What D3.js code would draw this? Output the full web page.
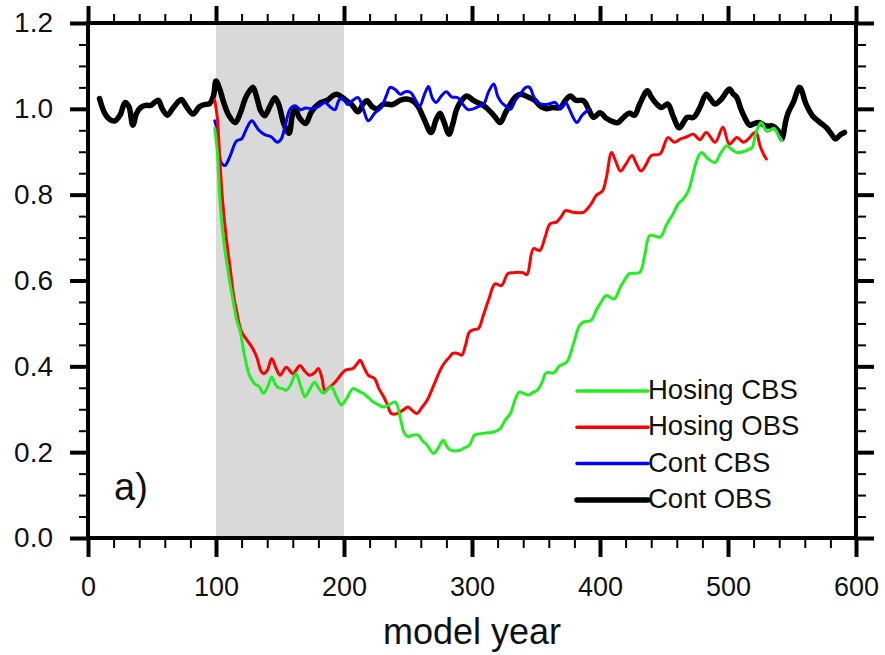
<!DOCTYPE html>
<html>
<head>
<meta charset="utf-8">
<script src="https://cdn.jsdelivr.net/npm/d3@7/dist/d3.min.js"></script>
<style>
  html, body { margin: 0; padding: 0; background: #fff; }
  svg { display: block; }
  text { font-family: "Liberation Sans", Arial, Helvetica, sans-serif; fill: #111; }
</style>
</head>
<body>
<svg id="chart" width="885" height="655"></svg>
<script>
// ---------------- data ----------------
const xTickLabels = [0, 100, 200, 300, 400, 500, 600];
const yTickLabels = [0.0, 0.2, 0.4, 0.6, 0.8, 1.0, 1.2];
const shadeYears = [100, 200];
const seriesNames = ["Hosing CBS", "Hosing OBS", "Cont CBS", "Cont OBS"];
const seriesColors = ["#22ee22", "#ff0000", "#0000ff", "#000000"];

const contObsYears = [9,13,17,21,25,29,32,35,38,41,45,49,52,55,58,62,66,70,73,77,82,87,91,95,98,100,103,106,110,115,119,123,127,129,132,135,138,142,146,149,153,157,160,162,165,170,174,177,182,187,191,194,198,202,206,211,215,218,222,226,231,238,244,249,254,258,262,268,272,275,278,282,285,288,292,296,300,304,308,311,317,322,326,330,334,338,342,345,349,353,358,363,369,373,377,381,387,391,395,400,405,410,414,419,423,427,431,437,440,444,448,453,457,462,468,473,478,483,487,490,495,501,504,507,510,513,517,520,524,530,535,539,542,545,547,551,556,561,566,572,577,581,584,588,591];
const contObsValues = [1.024,0.99,0.975,0.972,0.985,1.015,1.005,0.962,0.99,1.003,1.008,1.008,1.015,1.02,1.0,0.985,1.0,1.015,1.022,1.005,0.988,1.005,1.01,1.012,1.03,1.065,1.045,1.015,0.985,0.968,0.99,1.025,1.045,1.05,1.025,0.995,0.984,1.005,1.026,1.01,0.965,0.943,0.99,1.0,0.98,0.966,0.99,1.003,1.015,1.02,1.03,1.034,1.028,1.019,1.01,0.993,1.012,1.019,1.005,1.0,1.011,1.01,1.02,1.023,1.018,1.005,0.98,0.945,0.975,0.99,0.97,0.941,0.965,0.999,1.02,1.03,1.022,1.015,1.01,1.003,0.985,0.968,0.99,1.011,1.028,1.034,1.03,1.026,1.02,1.007,1.0,1.003,1.003,1.02,1.03,1.02,1.019,1.0,0.98,0.991,0.978,0.97,0.968,0.982,0.99,0.985,1.011,1.042,1.028,1.012,1.003,1.011,0.984,0.956,0.98,0.98,1.003,1.034,1.02,1.011,1.023,1.046,1.035,1.026,1.0,0.98,0.962,0.965,0.968,0.96,0.96,0.95,0.93,0.97,0.991,1.015,1.05,1.011,0.984,0.968,0.956,0.94,0.93,0.94,0.945];

const contCbsYears = [99,101,104,107,111,116,120,124,128,133,138,143,148,151,154,158,162,166,170,175,180,185,189,193,196,199,203,207,211,215,219,224,229,233,236,240,244,248,252,256,259,263,266,269,272,276,280,284,289,293,297,301,305,309,313,317,320,323,327,330,334,338,342,345,348,351,356,361,365,369,373,376,379,382,386,391];
const contCbsValues = [0.972,0.95,0.875,0.868,0.89,0.925,0.93,0.955,0.972,0.952,0.94,0.935,0.922,0.93,0.96,1.0,1.007,0.998,1.002,1.0,1.005,1.015,1.005,0.998,1.02,1.025,1.01,1.02,1.026,1.0,0.972,0.99,1.003,1.03,1.05,1.045,1.034,1.04,1.038,1.02,1.005,1.035,1.052,1.025,1.015,1.03,1.04,1.028,1.026,1.01,0.998,1.0,1.005,1.01,1.04,1.058,1.03,1.015,1.005,0.999,1.02,1.035,1.05,1.05,1.03,1.015,1.01,1.012,1.015,1.0,1.015,1.0,0.98,0.968,0.985,0.998];

const hosObsYears = [99,101,103,105,108,111,114,116,118,120,124,129,132,135,137,140,143.5,147,150,155,160,165.6,169,173,177,180,183,185,189,193,197,201,207,210,212.5,216,219,224,227,231,234,237,242,246,250,253,257,261,265,270,275,278,282,285,289,292,295,298,302,305,309,313,318,323,328,332,336,340,343,348,353,357,361,366,370,373,379,387,393,397,402,405,409,412,416,420,425,428,432,436,440,447,453,458,463,468,473,478,483,490,496,501,507,512,516,520,522,525,528,530];
const hosObsValues = [1.02,0.98,0.88,0.79,0.7,0.63,0.56,0.53,0.5,0.48,0.462,0.44,0.42,0.39,0.383,0.39,0.418,0.395,0.379,0.398,0.383,0.402,0.39,0.379,0.385,0.395,0.37,0.344,0.352,0.363,0.378,0.391,0.395,0.405,0.414,0.395,0.379,0.371,0.35,0.329,0.31,0.29,0.29,0.298,0.305,0.298,0.29,0.305,0.321,0.355,0.39,0.406,0.42,0.43,0.43,0.426,0.45,0.48,0.486,0.488,0.52,0.555,0.592,0.588,0.616,0.618,0.619,0.618,0.614,0.674,0.67,0.7,0.732,0.736,0.75,0.763,0.759,0.759,0.778,0.798,0.809,0.84,0.898,0.88,0.855,0.87,0.891,0.875,0.855,0.87,0.891,0.895,0.933,0.922,0.93,0.935,0.941,0.928,0.945,0.922,0.957,0.918,0.933,0.922,0.93,0.943,0.945,0.914,0.893,0.883];

const hosCbsYears = [99,101,103,105,107,110,113.5,116,119,122,126,130,134,137,140,143.5,146,148.7,152,155,158,162.5,166,169.5,173,177,180,184,187,190,194,198,202,207,211,215,219,223,227,231,235,240,244,247,250,254,258,261,265,270,274,277.6,280,283,287,291,294,298,302,307,312,317,322,326,330,334,337,344,348,351,355,358,364,368,374,377,380,384,387,393,397,401,405,411,416,420,423,431,435,439,447,452,457,461,465,469,472,474,477,479.4,484.6,490,494,499,503,507,512,516,519,521,524,526,530,533,536,539,542];
const hosCbsValues = [0.955,0.9,0.79,0.72,0.67,0.61,0.55,0.51,0.48,0.43,0.38,0.36,0.352,0.337,0.35,0.375,0.36,0.35,0.348,0.344,0.355,0.383,0.355,0.329,0.345,0.363,0.35,0.337,0.345,0.352,0.33,0.31,0.325,0.348,0.343,0.337,0.327,0.317,0.31,0.305,0.31,0.317,0.28,0.245,0.236,0.24,0.24,0.228,0.216,0.197,0.212,0.228,0.215,0.205,0.203,0.205,0.21,0.216,0.24,0.243,0.245,0.247,0.255,0.275,0.29,0.325,0.34,0.333,0.34,0.344,0.365,0.385,0.385,0.4,0.41,0.43,0.46,0.495,0.503,0.507,0.53,0.55,0.565,0.557,0.585,0.605,0.616,0.619,0.66,0.705,0.701,0.73,0.755,0.778,0.79,0.809,0.84,0.864,0.89,0.898,0.883,0.875,0.895,0.914,0.905,0.898,0.9,0.905,0.91,0.935,0.96,0.968,0.948,0.95,0.955,0.94,0.926];

// ---------------- chart ----------------
const svg = d3.select("#chart");
const L = 88, R = 856, T = 23, B = 538;
const x = d3.scaleLinear().domain([0, 600]).range([L, R]);
const y = d3.scaleLinear().domain([0, 1.2]).range([B, T]);

// shading
svg.append("rect")
  .attr("x", x(shadeYears[0])).attr("y", y(1.2))
  .attr("width", x(shadeYears[1]) - x(shadeYears[0]))
  .attr("height", y(0) - y(1.2))
  .attr("fill", "#d9d9d9");

// lines
const zip = (xs, vs) => xs.map((d, i) => [d, vs[i]]);
const lineGen = d3.line().x(d => x(d[0])).y(d => y(d[1])).curve(d3.curveCatmullRom.alpha(0.5));
const draws = [
  {data: zip(contObsYears, contObsValues), color: seriesColors[3], w: 5.5},
  {data: zip(contCbsYears, contCbsValues), color: seriesColors[2], w: 3},
  {data: zip(hosObsYears, hosObsValues), color: seriesColors[1], w: 3},
  {data: zip(hosCbsYears, hosCbsValues), color: seriesColors[0], w: 3}
];
draws.forEach(s => {
  svg.append("path").datum(s.data)
    .attr("d", lineGen)
    .attr("fill", "none")
    .attr("stroke", s.color)
    .attr("stroke-width", s.w)
    .attr("stroke-linejoin", "round")
    .attr("stroke-linecap", "round");
});

// axes
const xMinor = d3.range(0, 601, 20).filter(v => v % 100 !== 0);
const yMinor = d3.range(0, 25).map(i => +(i * 0.05).toFixed(2)).filter(v => Math.round(v * 100) % 20 !== 0);

function styleAxis(g, w) {
  g.select(".domain").remove();
  g.selectAll(".tick line").attr("stroke", "#000").attr("stroke-width", w);
}
const fontSize = 27;

// bottom
const gB = svg.append("g").attr("transform", `translate(0,${B})`)
  .call(d3.axisBottom(x).tickValues(xTickLabels).tickSize(19).tickPadding(20).tickFormat(d3.format("d")));
styleAxis(gB, 4);
gB.selectAll("text").attr("font-size", fontSize).attr("fill", "#111").style("font-family", "Liberation Sans, Arial, sans-serif");
const gBm = svg.append("g").attr("transform", `translate(0,${B})`)
  .call(d3.axisBottom(x).tickValues(xMinor).tickSize(10).tickFormat(""));
styleAxis(gBm, 2);

// top
const gT = svg.append("g").attr("transform", `translate(0,${T})`)
  .call(d3.axisTop(x).tickValues(xTickLabels).tickSize(17).tickFormat(""));
styleAxis(gT, 4);
const gTm = svg.append("g").attr("transform", `translate(0,${T})`)
  .call(d3.axisTop(x).tickValues(xMinor).tickSize(9).tickFormat(""));
styleAxis(gTm, 2);

// left
const gL = svg.append("g").attr("transform", `translate(${L},0)`)
  .call(d3.axisLeft(y).tickValues(yTickLabels).tickSize(18).tickPadding(17).tickFormat(d3.format(".1f")));
styleAxis(gL, 4);
gL.selectAll("text").attr("font-size", 28).attr("fill", "#111").style("font-family", "Liberation Sans, Arial, sans-serif");
const gLm = svg.append("g").attr("transform", `translate(${L},0)`)
  .call(d3.axisLeft(y).tickValues(yMinor).tickSize(9).tickFormat(""));
styleAxis(gLm, 2);

// right
const gR = svg.append("g").attr("transform", `translate(${R},0)`)
  .call(d3.axisRight(y).tickValues(yTickLabels).tickSize(18).tickFormat(""));
styleAxis(gR, 4);
const gRm = svg.append("g").attr("transform", `translate(${R},0)`)
  .call(d3.axisRight(y).tickValues(yMinor).tickSize(10).tickFormat(""));
styleAxis(gRm, 2);

// frame
svg.append("rect")
  .attr("x", L).attr("y", T).attr("width", R - L).attr("height", B - T)
  .attr("fill", "none").attr("stroke", "#000").attr("stroke-width", 4);

// x-axis title
svg.append("text").attr("x", (L + R) / 2).attr("y", 644)
  .attr("text-anchor", "middle").attr("font-size", 36).text("model year");

// panel label
svg.append("text").attr("x", 114).attr("y", 500).attr("font-size", 38).text("a)");

// legend
const legY0 = 399, legDy = 36.3;
seriesNames.forEach((name, i) => {
  const by = legY0 + i * legDy;
  svg.append("line")
    .attr("x1", 577).attr("x2", 648)
    .attr("y1", by - 8).attr("y2", by - 8)
    .attr("stroke", seriesColors[i])
    .attr("stroke-width", i === 3 ? 5.5 : 3.5)
    .attr("stroke-linecap", "round");
  svg.append("text").attr("x", 648).attr("y", by)
    .attr("font-size", 27.5).text(name);
});
</script>
</body>
</html>
